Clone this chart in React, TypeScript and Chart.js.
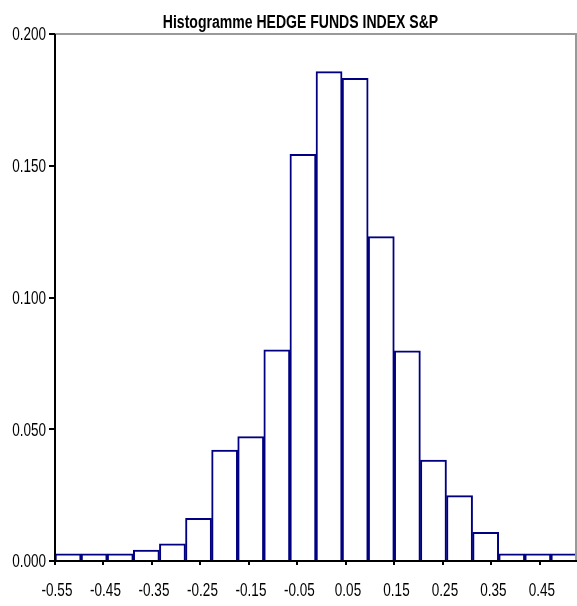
import React, { useEffect, useRef } from "react";
import { Chart, registerables } from "chart.js";

Chart.register(...registerables);

const TITLE = "Histogramme HEDGE FUNDS INDEX S&P";

const binStarts = [
  "-0.55", "-0.50", "-0.45", "-0.40", "-0.35", "-0.30", "-0.25", "-0.20", "-0.15", "-0.10",
  "-0.05", "0.00", "0.05", "0.10", "0.15", "0.20", "0.25", "0.30", "0.35", "0.40",
];

const frequencies = [
  0.0027, 0.0027, 0.0027, 0.0041, 0.0065, 0.0162, 0.0421, 0.0472, 0.0801, 0.1543,
  0.1857, 0.1832, 0.1231, 0.0798, 0.0383, 0.0248, 0.0109, 0.0027, 0.0027, 0.0027,
];

const xTickValues = [-0.55, -0.45, -0.35, -0.25, -0.15, -0.05, 0.05, 0.15, 0.25, 0.35, 0.45];
const xAxisMin = -0.55;
const xAxisMax = 0.5263;

const yMin = 0;
const yMax = 0.2;
const yStep = 0.05;

const FONT = "'Liberation Sans', Arial, sans-serif";
const LABEL_SQUEEZE = 0.75;
const TITLE_SQUEEZE = 0.78;

function squeezedText(ctx: any, text: string, x: number, y: number, sx: number) {
  ctx.save();
  ctx.translate(x, y);
  ctx.scale(sx, 1);
  ctx.fillText(text, 0, 0);
  ctx.restore();
}

const framePlugin = {
  id: "frame",
  afterDraw(chart: any) {
    const { ctx, chartArea } = chart;
    ctx.save();
    ctx.strokeStyle = "#999999";
    ctx.lineWidth = 2;
    ctx.beginPath();
    ctx.moveTo(chartArea.left, chartArea.top);
    ctx.lineTo(chartArea.right - 1, chartArea.top);
    ctx.lineTo(chartArea.right - 1, chartArea.bottom);
    ctx.stroke();
    // axes
    ctx.strokeStyle = "#000000";
    ctx.beginPath();
    ctx.moveTo(chartArea.left, chartArea.top);
    ctx.lineTo(chartArea.left, chartArea.bottom);
    ctx.lineTo(chartArea.right, chartArea.bottom);
    ctx.stroke();

    ctx.fillStyle = "#000000";
    // title
    ctx.font = `bold 18px ${FONT}`;
    ctx.textAlign = "center";
    ctx.textBaseline = "alphabetic";
    squeezedText(ctx, TITLE, 300.5, 28, TITLE_SQUEEZE);

    // y tick labels
    ctx.font = `18px ${FONT}`;
    ctx.textAlign = "right";
    ctx.textBaseline = "middle";
    const ys = chart.scales.y;
    ys.ticks.forEach((t: any) => {
      const py = ys.getPixelForValue(t.value);
      squeezedText(ctx, Number(t.value).toFixed(3), chartArea.left - 9, py + 1.5, LABEL_SQUEEZE);
    });

    // x tick labels
    ctx.textAlign = "center";
    const xs = chart.scales.x;
    xs.ticks.forEach((t: any) => {
      const px = xs.getPixelForValue(t.value);
      squeezedText(ctx, Number(t.value).toFixed(2), px + 2, chartArea.bottom + 30, LABEL_SQUEEZE);
    });
    ctx.restore();
  },
};

export default function App() {
  const ref = useRef<HTMLCanvasElement>(null);

  useEffect(() => {
    document.body.style.margin = "0";
    const canvas = ref.current;
    if (!canvas) return;
    const chart = new Chart(canvas, {
      type: "bar",
      data: {
        labels: binStarts,
        datasets: [
          {
            data: frequencies,
            xAxisID: "xc",
            backgroundColor: "#ffffff",
            borderColor: "#000080",
            borderWidth: 2,
            barPercentage: 1,
            categoryPercentage: 1,
          },
        ],
      },
      options: {
        animation: false,
        responsive: false,
        maintainAspectRatio: false,
        layout: { padding: { top: 34, right: 0, left: 0, bottom: 0 } },
        plugins: {
          legend: { display: false },
          title: { display: false },
          tooltip: { enabled: false },
        },
        scales: {
          xc: {
            type: "category",
            display: false,
            offset: true,
          },
          x: {
            type: "linear",
            position: "bottom",
            offset: false,
            min: xAxisMin,
            max: xAxisMax,
            afterBuildTicks: (scale: any) => {
              scale.ticks = xTickValues.map((v) => ({ value: v }));
            },
            afterFit: (scale: any) => {
              scale.height = 45;
            },
            border: { display: false },
            grid: {
              display: true,
              offset: false,
              drawOnChartArea: false,
              drawTicks: true,
              tickLength: 4,
              color: "#000000",
              lineWidth: 2,
            },
            ticks: {
              display: false,
              autoSkip: false,
              maxRotation: 0,
            },
          },
          y: {
            min: yMin,
            max: yMax,
            afterFit: (scale: any) => {
              scale.width = 55;
            },
            border: { display: false },
            grid: {
              display: true,
              offset: false,
              drawOnChartArea: false,
              drawTicks: true,
              tickLength: 6,
              color: "#000000",
              lineWidth: 2,
            },
            ticks: {
              display: false,
              stepSize: yStep,
            },
          },
        },
      },
      plugins: [framePlugin],
    });
    return () => chart.destroy();
  }, []);

  return <canvas ref={ref} width={577} height={606} style={{ display: "block" }} />;
}
